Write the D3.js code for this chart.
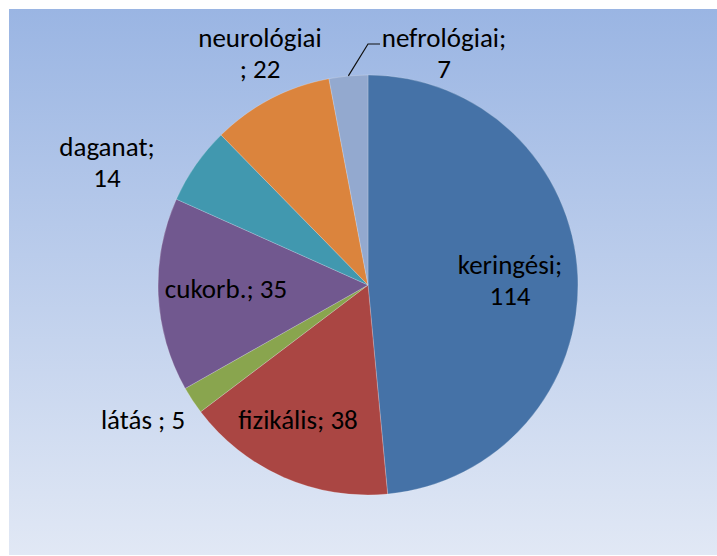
<!DOCTYPE html>
<html>
<head>
<meta charset="utf-8">
<script src="https://cdnjs.cloudflare.com/ajax/libs/d3/7.8.5/d3.min.js"></script>
<style>
  html, body { margin: 0; padding: 0; background: #fff; }
  svg { display: block; }
</style>
</head>
<body>
<svg id="chart" width="717" height="556"></svg>
<script>
// data
const categories = ["keringési", "fizikális", "látás ", "cukorb.", "daganat", "neurológiai", "nefrológiai"];
const values = [114, 38, 5, 35, 14, 22, 7];
const colors = ["#4572a7", "#aa4643", "#89a54e", "#71588f", "#4198af", "#db843d", "#93a9cf"];

// how each label is broken into lines, and where it sits (offset from pie centre)
const labelLines = [
    ["keringési;", "114"],
    ["fizikális; 38"],
    ["látás ; 5"],
    ["cukorb.; 35"],
    ["daganat;", "14"],
    ["neurológiai", "; 22"],
    ["nefrológiai;", "7"]
];
const labelSpots = [[142, -4], [-70, 136], [-225, 136], [-142, 5], [-261, -122], [-108, -231], [76, -231]];

const svg = d3.select("#chart"),
      width = +svg.attr("width"),
      height = +svg.attr("height");

const defs = svg.append("defs");
const grad = defs.append("linearGradient")
    .attr("id", "bg")
    .attr("x1", 0).attr("y1", 0).attr("x2", 0).attr("y2", 1);
grad.append("stop").attr("offset", "0%").attr("stop-color", "#9ab5e3");
grad.append("stop").attr("offset", "100%").attr("stop-color", "#e1e8f5");

svg.append("rect")
    .attr("x", 9).attr("y", 9)
    .attr("width", width - 9).attr("height", height - 10)
    .attr("fill", "url(#bg)");

const cx = 368, cy = 285, radius = 210;

const pie = d3.pie().sort(null).value(d => d);
const arcs = pie(values);
const arc = d3.arc().innerRadius(0).outerRadius(radius);

const g = svg.append("g").attr("transform", `translate(${cx},${cy})`);

g.selectAll("path.slice")
    .data(arcs)
    .join("path")
    .attr("class", "slice")
    .attr("d", arc)
    .attr("fill", (d, i) => colors[i])
    .attr("stroke", "rgba(255,255,255,0.35)")
    .attr("stroke-width", 0.6);

// leader line for the small nefrológiai slice
const edge = d3.arc().innerRadius(radius).outerRadius(radius);
const last = arcs[arcs.length - 1];
const p0 = edge.centroid(last);
const spot = labelSpots[labelSpots.length - 1];
g.append("polyline")
    .attr("points", [p0, [0, spot[1] - 10], [12, spot[1] - 10]].map(p => p.join(",")).join(" "))
    .attr("fill", "none")
    .attr("stroke", "#111")
    .attr("stroke-width", 1.2);

const lineH = 31;
const labels = g.selectAll("text.lbl")
    .data(arcs)
    .join("text")
    .attr("class", "lbl")
    .attr("text-anchor", "middle")
    .attr("font-family", "Carlito, Calibri, Lato, sans-serif")
    .attr("font-size", 27)
    .attr("fill", "#000")
    .attr("transform", (d, i) => `translate(${labelSpots[i][0]},${labelSpots[i][1]})`);

labels.each(function(d, i) {
    const lines = labelLines[i];
    const t = d3.select(this);
    const y0 = -(lines.length - 1) * lineH / 2 + 8;
    lines.forEach((s, k) => {
        t.append("tspan")
            .attr("x", 0)
            .attr("y", y0 + k * lineH)
            .text(s);
    });
});
</script>
</body>
</html>
